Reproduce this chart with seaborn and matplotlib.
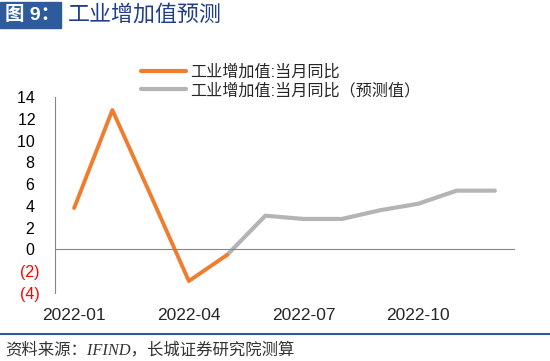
import matplotlib
matplotlib.use("Agg")
import matplotlib.pyplot as plt
import matplotlib.patches as mpatches
from matplotlib.lines import Line2D
import seaborn as sns
import pandas as pd

# data (%, y/y)
months = ["2022-01", "2022-02", "2022-03", "2022-04", "2022-05", "2022-06",
          "2022-07", "2022-08", "2022-09", "2022-10", "2022-11", "2022-12"]
actual_idx = [0, 1, 2, 3, 4]
actual_vals = [3.8, 12.8, 5.0, -2.9, -0.5]
forecast_idx = [4, 5, 6, 7, 8, 9, 10, 11]
forecast_vals = [-0.5, 3.1, 2.8, 2.8, 3.6, 4.2, 5.4, 5.4]

label_actual = "工业增加值:当月同比"
label_forecast = "工业增加值:当月同比（预测值）"
y_ticks = [-4, -2, 0, 2, 4, 6, 8, 10, 12, 14]

ORANGE = "#F07D2E"
GRAY = "#B4B4B4"
AXIS_GRAY = "#868686"
BLUE = "#2D5B9B"

sns.set_style("white")
plt.rcParams["font.family"] = ["Liberation Sans", "Noto Sans CJK SC", "DejaVu Sans"]

W, H = 550, 361
fig = plt.figure(figsize=(W / 100, H / 100), dpi=100)
ax = fig.add_axes([55 / W, 1 - 293 / H, (514 - 55) / W, (293 - 97) / H])

df_a = pd.DataFrame({"m": actual_idx, "v": actual_vals})
df_f = pd.DataFrame({"m": forecast_idx, "v": forecast_vals})
sns.lineplot(data=df_f, x="m", y="v", ax=ax, color=GRAY, linewidth=3.0,
             solid_capstyle="round", solid_joinstyle="round", legend=False)
sns.lineplot(data=df_a, x="m", y="v", ax=ax, color=ORANGE, linewidth=2.8,
             solid_capstyle="round", solid_joinstyle="round", legend=False)

ax.set_xlim(-0.5, len(months) - 0.5)
ax.set_ylim(-4, 14)
ax.set_xlabel("")
ax.set_ylabel("")

# y axis
ax.set_yticks(y_ticks)
ylabels = [f"({abs(t)})" if t < 0 else f"{t} " for t in y_ticks]
ax.set_yticklabels(ylabels)
for t, lab in zip(y_ticks, ax.get_yticklabels()):
    lab.set_color("#FF0000" if t < 0 else "black")
ax.tick_params(axis="y", direction="in", length=3.6, width=0.75,
               color=AXIS_GRAY, pad=11, labelsize=11.5)

for s in ["top", "right"]:
    ax.spines[s].set_visible(False)
ax.spines["left"].set_color(AXIS_GRAY)
ax.spines["left"].set_linewidth(0.8)
ax.spines["bottom"].set_position(("data", 0))
ax.spines["bottom"].set_color(AXIS_GRAY)
ax.spines["bottom"].set_linewidth(0.8)

# boundary ticks on the zero line
ax.set_xticks([i - 0.5 for i in range(0, len(months) + 1, 3)])
ax.tick_params(axis="x", direction="in", length=3.6, width=0.75,
               color=AXIS_GRAY, labelbottom=False)

# category labels at the bottom
sec = ax.secondary_xaxis(0)
sec.set_xticks(list(range(0, len(months), 3)))
sec.set_xticklabels(months[0::3])
sec.tick_params(length=0, pad=11, labelsize=12.5)
sec.spines["bottom"].set_visible(False)

# legend
handles = [
    Line2D([], [], color=ORANGE, linewidth=3.0, solid_capstyle="round"),
    Line2D([], [], color=GRAY, linewidth=3.0, solid_capstyle="round"),
]
fig.legend(handles, [label_actual, label_forecast], loc="center left",
           bbox_to_anchor=(141 / W, 1 - 81 / H), frameon=False,
           fontsize=11.6, handlelength=2.8, handletextpad=0.25,
           labelspacing=0.18, borderpad=0, borderaxespad=0)

# header
fig.patches.append(mpatches.Rectangle((0, 1 - 28 / H), 61 / W, 26 / H,
                                      transform=fig.transFigure,
                                      color=BLUE, zorder=0))
fig.text(5 / W, 1 - 15 / H, "图 9：", color="white", fontsize=14,
         fontweight="bold", va="center", ha="left")
fig.text(68 / W, 1 - 15 / H, "工业增加值预测", color="#1F3D8A", fontsize=15.8,
         va="center", ha="left")

# footer
fig.add_artist(Line2D([0, 1], [1 - 334 / H, 1 - 334 / H], transform=fig.transFigure,
                      color="#2F5B8E", linewidth=1.5))
fig.text(5 / W, 1 - 350 / H, "资料来源：IFIND，长城证券研究院测算", color="#333333",
         fontsize=11.8, style="italic", va="center", ha="left",
         family=["Liberation Serif", "Noto Sans CJK SC"])

fig.savefig("out.png", dpi=100)
